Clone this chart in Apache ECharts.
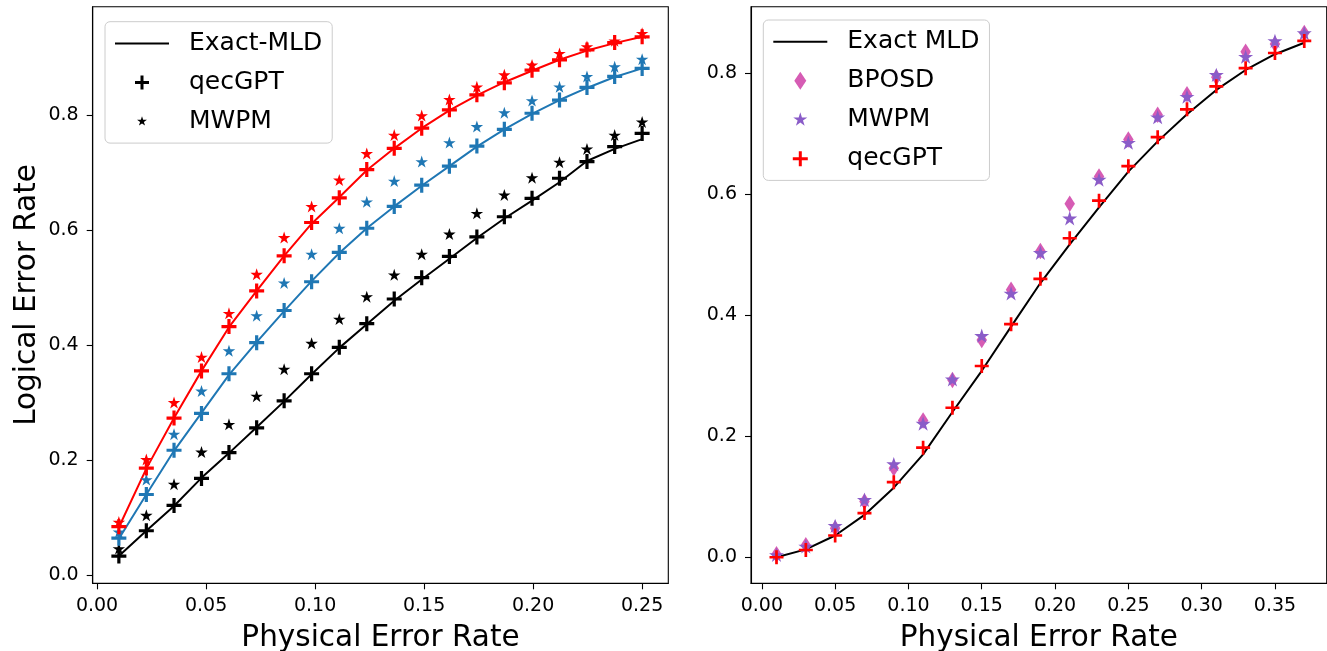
<!DOCTYPE html>
<html>
<head>
<meta charset="utf-8">
<script src="https://cdn.jsdelivr.net/npm/echarts@6/dist/echarts.min.js"></script>
<style>
  html, body { margin: 0; padding: 0; background: #fff; }
  #chart { width: 1327px; height: 651px; }
</style>
</head>
<body>
<div id="chart"></div>
<script>
// ---- left panel: logical vs physical error rate, three code sizes ----
const xLeft = [0.0100, 0.0226, 0.0353, 0.0479, 0.0605, 0.0732, 0.0858, 0.0984, 0.1111, 0.1237,
               0.1363, 0.1489, 0.1616, 0.1742, 0.1868, 0.1995, 0.2121, 0.2247, 0.2374, 0.2500];

const mldBlack  = [0.033, 0.077, 0.120, 0.169, 0.212, 0.257, 0.302, 0.349, 0.395, 0.436,
                   0.477, 0.514, 0.550, 0.586, 0.620, 0.651, 0.683, 0.720, 0.741, 0.758];
const gptBlack  = [0.033, 0.077, 0.121, 0.168, 0.213, 0.256, 0.303, 0.350, 0.396, 0.437,
                   0.480, 0.517, 0.554, 0.588, 0.623, 0.655, 0.690, 0.719, 0.745, 0.768];
const mwpmBlack = [0.046, 0.104, 0.158, 0.214, 0.262, 0.311, 0.358, 0.403, 0.445, 0.484,
                   0.522, 0.558, 0.593, 0.629, 0.661, 0.691, 0.718, 0.741, 0.765, 0.788];

const mldBlue   = [0.063, 0.140, 0.216, 0.282, 0.348, 0.405, 0.459, 0.511, 0.560, 0.603,
                   0.641, 0.677, 0.711, 0.745, 0.775, 0.802, 0.826, 0.847, 0.866, 0.881];
const gptBlue   = [0.064, 0.140, 0.217, 0.281, 0.350, 0.404, 0.460, 0.510, 0.561, 0.603,
                   0.641, 0.678, 0.711, 0.746, 0.775, 0.803, 0.826, 0.848, 0.867, 0.881];
const mwpmBlue  = [0.075, 0.166, 0.245, 0.320, 0.390, 0.451, 0.508, 0.558, 0.603, 0.649,
                   0.685, 0.719, 0.752, 0.780, 0.804, 0.825, 0.849, 0.867, 0.884, 0.897];

const mldRed    = [0.083, 0.185, 0.273, 0.355, 0.431, 0.494, 0.555, 0.611, 0.657, 0.704,
                   0.742, 0.777, 0.808, 0.834, 0.857, 0.877, 0.896, 0.912, 0.925, 0.936];
const gptRed    = [0.084, 0.186, 0.273, 0.355, 0.432, 0.494, 0.555, 0.613, 0.656, 0.705,
                   0.742, 0.777, 0.809, 0.835, 0.856, 0.878, 0.896, 0.913, 0.926, 0.936];
const mwpmRed   = [0.092, 0.201, 0.300, 0.379, 0.455, 0.523, 0.587, 0.641, 0.687, 0.733,
                   0.765, 0.799, 0.827, 0.849, 0.870, 0.887, 0.907, 0.919, 0.929, 0.942];

// ---- right panel ----
const xRight = [0.01, 0.03, 0.05, 0.07, 0.09, 0.11, 0.13, 0.15, 0.17, 0.19,
                0.21, 0.23, 0.25, 0.27, 0.29, 0.31, 0.33, 0.35, 0.37];
const mldRight  = [0.000, 0.013, 0.036, 0.070, 0.115, 0.170, 0.240, 0.308, 0.381, 0.453,
                   0.517, 0.578, 0.637, 0.687, 0.732, 0.772, 0.805, 0.831, 0.850];
const bposdRight = [0.005, 0.020, 0.048, 0.092, 0.147, 0.226, 0.293, 0.359, 0.442, 0.506,
                    0.584, 0.629, 0.690, 0.731, 0.765, 0.793, 0.835, 0.848, 0.866];
const mwpmRight = [0.004, 0.018, 0.052, 0.095, 0.154, 0.221, 0.294, 0.366, 0.436, 0.503,
                   0.560, 0.624, 0.685, 0.727, 0.761, 0.797, 0.827, 0.853, 0.866];
const gptRight  = [0.000, 0.012, 0.036, 0.073, 0.124, 0.181, 0.247, 0.316, 0.385, 0.460,
                   0.527, 0.589, 0.646, 0.694, 0.740, 0.778, 0.808, 0.833, 0.853];

// ---- tick labels ----
const leftXTicks  = [0, 0.05, 0.10, 0.15, 0.20, 0.25];
const leftYTicks  = [0, 0.2, 0.4, 0.6, 0.8];
const rightXTicks = [0, 0.05, 0.10, 0.15, 0.20, 0.25, 0.30, 0.35];
const rightYTicks = [0, 0.2, 0.4, 0.6, 0.8];

const FONT = 'DejaVu Sans';
const C_BLUE = '#1f77b4', C_RED = '#ff0000', C_BLACK = '#000000';
const C_PURPLE = '#8a5cc8', C_PINK = '#d65cb4';

// marker shapes
function plusPath(arm, half, box) {
  const pad = box ? `M${-box},${-box}M${box},${box}` : '';
  return `path://${pad}M${-half},${-arm}H${half}V${-half}H${arm}V${half}H${half}V${arm}H${-half}V${half}H${-arm}V${-half}H${-half}Z`;
}
function starPath(r, box) {
  const pts = [];
  for (let k = 0; k < 10; k++) {
    const rr = k % 2 === 0 ? r : r * 0.382;
    const a = (-90 + k * 36) * Math.PI / 180;
    pts.push((rr * Math.cos(a)).toFixed(3) + ',' + (rr * Math.sin(a)).toFixed(3));
  }
  const pad = box ? `M${-box},${-box}M${box},${box}` : '';
  return `path://${pad}M${pts.join('L')}Z`;
}
function diamondPath(w, h, box) {
  const pad = box ? `M${-box},${-box}M${box},${box}` : '';
  return `path://${pad}M0,${-h / 2}L${w / 2},0L0,${h / 2}L${-w / 2},0Z`;
}
const LINE_ICON = 'path://M0,-1H54V1H0Z';

const PLUS_L = plusPath(7, 1.5);
const PLUS_R = plusPath(7, 1.35);
const STAR = starPath(100);

function lineSeries(name, xs, ys, color, idx) {
  return {
    type: 'line', name, xAxisIndex: idx, yAxisIndex: idx,
    data: xs.map((x, i) => [x, ys[i]]),
    symbol: 'none', showSymbol: false,
    lineStyle: { color, width: 2 }, itemStyle: { color }, z: 2
  };
}
function markSeries(name, xs, ys, color, symbol, size, idx) {
  return {
    type: 'scatter', name, xAxisIndex: idx, yAxisIndex: idx,
    data: xs.map((x, i) => [x, ys[i]]),
    symbol, symbolSize: size, itemStyle: { color, opacity: 1 }, z: 3
  };
}

const STAR_L = [12.5, 12];
const STAR_R = [15, 14.3];

const series = [
  // left panel (black first so the legend takes black icons)
  lineSeries('Exact-MLD', xLeft, mldBlack, C_BLACK, 0),
  markSeries('qecGPT', xLeft, gptBlack, C_BLACK, PLUS_L, 15, 0),
  markSeries('MWPM', xLeft, mwpmBlack, C_BLACK, STAR, STAR_L, 0),
  lineSeries('Exact-MLD · blue', xLeft, mldBlue, C_BLUE, 0),
  markSeries('qecGPT · blue', xLeft, gptBlue, C_BLUE, PLUS_L, 15, 0),
  markSeries('MWPM · blue', xLeft, mwpmBlue, C_BLUE, STAR, STAR_L, 0),
  lineSeries('Exact-MLD · red', xLeft, mldRed, C_RED, 0),
  markSeries('qecGPT · red', xLeft, gptRed, C_RED, PLUS_L, 15, 0),
  markSeries('MWPM · red', xLeft, mwpmRed, C_RED, STAR, STAR_L, 0),
  // right panel
  lineSeries('right/Exact MLD', xRight, mldRight, C_BLACK, 1),
  markSeries('right/BPOSD', xRight, bposdRight, C_PINK, 'diamond', [10.5, 16.5], 1),
  markSeries('right/MWPM', xRight, mwpmRight, C_PURPLE, STAR, STAR_R, 1),
  markSeries('right/qecGPT', xRight, gptRight, C_RED, PLUS_R, 14, 1)
];

function xAxis(idx, min, max, ticks) {
  return {
    type: 'value', gridIndex: idx, min, max,
    name: 'Physical Error Rate', nameLocation: 'middle', nameGap: 40,
    nameTextStyle: { fontFamily: FONT, fontSize: 29.5, color: '#000' },
    axisLine: { show: true, onZero: false, lineStyle: { color: '#000', width: 1.1 } },
    axisTick: { show: true, length: 6, customValues: ticks, lineStyle: { color: '#000', width: 1.1 } },
    axisLabel: { customValues: ticks, margin: 13, fontFamily: FONT, fontSize: 19, color: '#000',
                 formatter: v => v.toFixed(2) },
    splitLine: { show: false }
  };
}
function yAxis(idx, min, max, ticks, name) {
  return {
    type: 'value', gridIndex: idx, min, max,
    name: name || '', nameLocation: 'middle', nameGap: 50, nameRotate: 90,
    nameTextStyle: { fontFamily: FONT, fontSize: 29.5, color: '#000' },
    axisLine: { show: true, onZero: false, lineStyle: { color: '#000', width: 1.1 } },
    axisTick: { show: true, length: 6, customValues: ticks, lineStyle: { color: '#000', width: 1.1 } },
    axisLabel: { customValues: ticks, margin: 14, padding: [5, 0, 0, 0], fontFamily: FONT, fontSize: 19, color: '#000',
                 formatter: v => v.toFixed(1) },
    splitLine: { show: false }
  };
}

function legend(left, top, items) {
  return {
    orient: 'vertical', left, top,
    backgroundColor: 'rgba(255,255,255,0.85)',
    borderColor: '#cccccc', borderWidth: 1, borderRadius: 5,
    padding: [8.7, 10, 8.7, 10],
    itemWidth: 54, itemHeight: 18, itemGap: 13,
    symbolKeepAspect: true,
    selectedMode: false,
    textStyle: { fontFamily: FONT, fontSize: 25, color: '#000', lineHeight: 26, padding: [0, 0, 0, 15] },
    formatter: n => n.replace(/^right\//, ''),
    data: items
  };
}

const option = {
  animation: false,
  backgroundColor: '#ffffff',
  grid: [
    { left: 92.7, top: 6.7, width: 575.6, height: 576.6, outerBoundsMode: 'none', containLabel: false,
      show: true, borderColor: '#000', borderWidth: 1.1, backgroundColor: 'transparent' },
    { left: 751, top: 6.7, width: 575.7, height: 576.6, outerBoundsMode: 'none', containLabel: false,
      show: true, borderColor: '#000', borderWidth: 1.1, backgroundColor: 'transparent' }
  ],
  xAxis: [
    xAxis(0, -0.002, 0.262, leftXTicks),
    xAxis(1, -0.0074, 0.3853, rightXTicks)
  ],
  yAxis: [
    yAxis(0, -0.0144, 0.9883, leftYTicks, 'Logical Error Rate'),
    yAxis(1, -0.043, 0.9095, rightYTicks)
  ],
  legend: [
    legend(105, 21.7, [
      { name: 'Exact-MLD', icon: LINE_ICON },
      { name: 'qecGPT', icon: plusPath(7, 1.5, 9) },
      { name: 'MWPM', icon: starPath(5.2, 9) }
    ]),
    legend(763.3, 20, [
      { name: 'right/Exact MLD', icon: LINE_ICON },
      { name: 'right/BPOSD', icon: diamondPath(12, 18, 9) },
      { name: 'right/MWPM', icon: starPath(7.4, 9) },
      { name: 'right/qecGPT', icon: plusPath(7.5, 1.5, 9) }
    ])
  ],
  series
};

const chart = echarts.init(document.getElementById('chart'), null, { renderer: 'canvas' });
chart.setOption(option);
</script>
</body>
</html>
